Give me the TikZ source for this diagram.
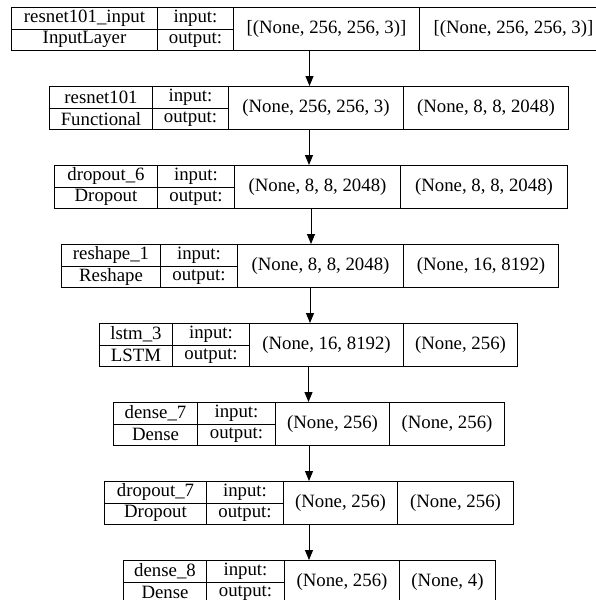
\documentclass[tikz,border=0pt]{standalone}
\usepackage{fontspec}
\setmainfont{Liberation Serif}
\usetikzlibrary{arrows.meta}
\begin{document}
\begin{tikzpicture}[x=1pt, y=-1pt, >={Triangle[length=10pt,width=8pt]},
    cell/.style={draw, line width=1pt, inner sep=0pt, anchor=north west,
      font=\fontsize{18.8}{20}\selectfont},
    rowbox/.style={draw, line width=1pt, inner sep=0pt, anchor=north west,
      minimum height=43pt}]
    \useasboundingbox (0,0) rectangle (596,600);

    % One table per layer: name/type, input/output, the two shapes
    \foreach \r/\yy/\xa/\xb/\xc/\xd/\xe/\nm/\ty/\si/\so in {
      1/7/11/157/233/419/607/resnet101\_input/InputLayer/{[(None, 256, 256, 3)]}/{[(None, 256, 256, 3)]},
      2/86/49/152/228/403/568/resnet101/Functional/{(None, 256, 256, 3)}/{(None, 8, 8, 2048)},
      3/165/54/157/234/400/567/dropout\_6/Dropout/{(None, 8, 8, 2048)}/{(None, 8, 8, 2048)},
      4/244/61/160/237/403/558/reshape\_1/Reshape/{(None, 8, 8, 2048)}/{(None, 16, 8192)},
      5/323/99/172/249/403/517/lstm\_3/LSTM/{(None, 16, 8192)}/{(None, 256)},
      6/402/113/197/275/389/504/dense\_7/Dense/{(None, 256)}/{(None, 256)},
      7/481/104/206/283/397/513/dropout\_7/Dropout/{(None, 256)}/{(None, 256)},
      8/560/123/206/284/399/495/dense\_8/Dense/{(None, 256)}/{(None, 4)}}{
      \node[rowbox, minimum width={(\xe-\xa)*1pt}] (r\r) at (\xa,\yy) {};
      \node[cell, minimum width={(\xb-\xa)*1pt}, minimum height=21.5pt] (r\r n) at (\xa,\yy) {\nm};
      \node[cell, minimum width={(\xb-\xa)*1pt}, minimum height=21.5pt] (r\r t) at (\xa,{\yy+21.5}) {\ty};
      \node[cell, minimum width={(\xc-\xb)*1pt}, minimum height=21.5pt] (r\r i) at (\xb,\yy) {input:};
      \node[cell, minimum width={(\xc-\xb)*1pt}, minimum height=21.5pt] (r\r o) at (\xb,{\yy+21.5}) {output:};
      \node[cell, minimum width={(\xd-\xc)*1pt}, minimum height=43pt] (r\r a) at (\xc,\yy) {\si};
      \node[cell, minimum width={(\xe-\xd)*1pt}, minimum height=43pt] (r\r b) at (\xd,\yy) {\so};
    }

    % Edges between layers
    \foreach \a/\b in {1/2,2/3,3/4,4/5,5/6,6/7,7/8}
      \draw[->, line width=1pt] (r\a.south) -- (r\a.south |- r\b.north);
\end{tikzpicture}
\end{document}
